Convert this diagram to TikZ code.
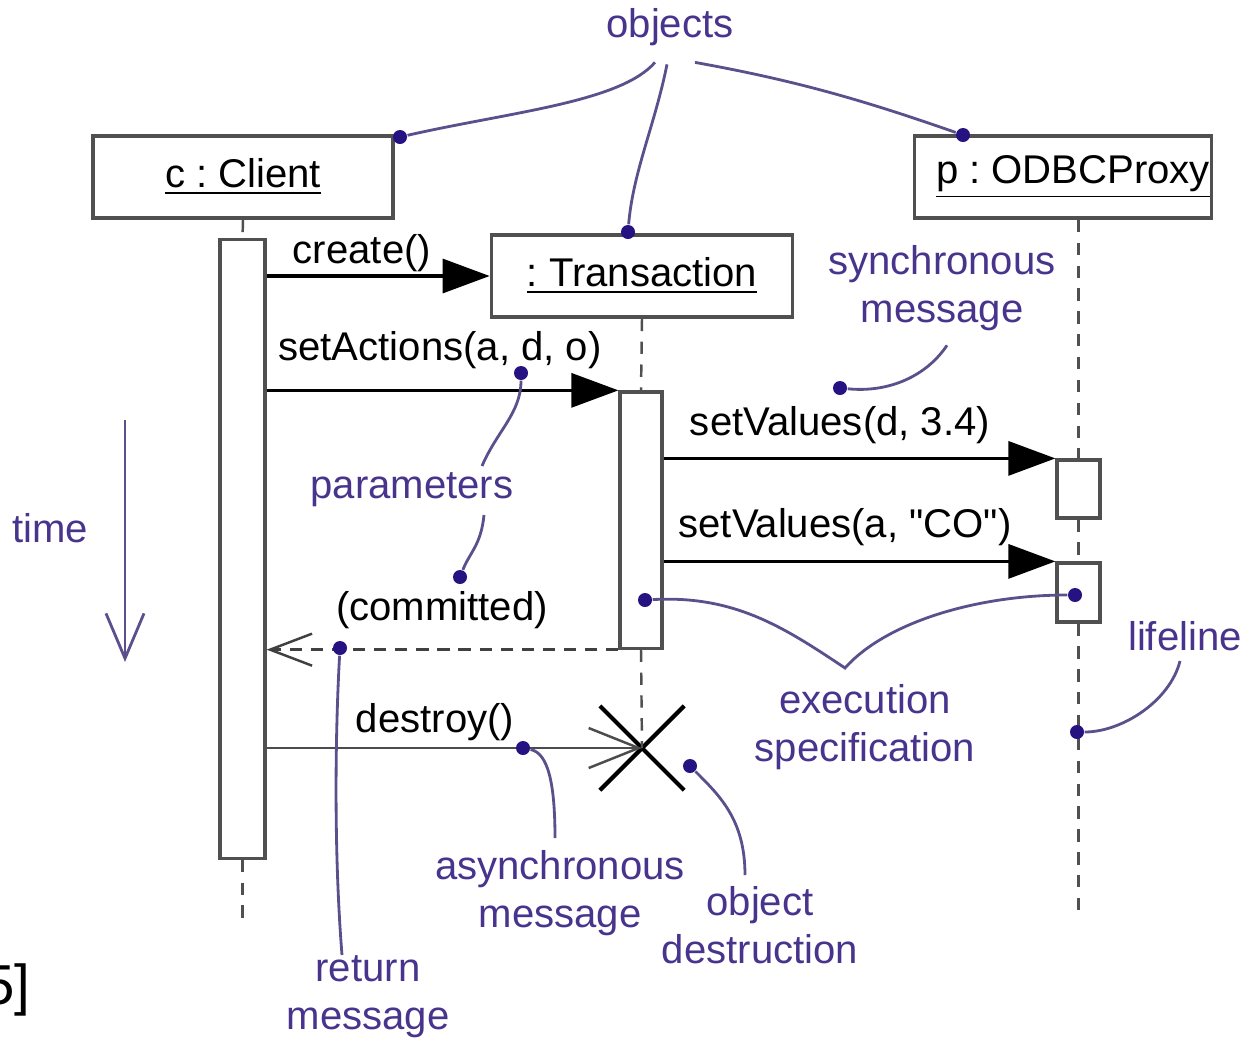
\documentclass[tikz,border=0pt]{standalone}
\usepackage{fontspec}
\setmainfont{Liberation Sans}[Ligatures=TeXOff]
\frenchspacing
\usetikzlibrary{arrows.meta,positioning,calc,shapes.misc}
\definecolor{notepurple}{RGB}{72,52,140}
\definecolor{dotblue}{RGB}{38,18,128}
\definecolor{noteline}{RGB}{92,80,140}
\definecolor{boxgray}{RGB}{80,80,80}

\begin{document}
\begin{tikzpicture}[x=0.01cm,y=-0.01cm,
  font=\fontsize{11.4}{13.6}\selectfont,
  every node/.style={align=center},
  obj/.style={draw=boxgray,line width=1pt,fill=white,minimum height=0.82cm,inner sep=0pt},
  bar/.style={draw=boxgray,line width=0.9pt,fill=white,inner sep=0pt},
  life/.style={draw=boxgray,line width=0.7pt,dash pattern=on 3.5pt off 3pt},
  sync/.style={line width=0.9pt,-{Triangle[length=0.47cm,width=0.34cm]}},
  async/.style={draw=black!70,line width=0.7pt,-{Straight Barb[length=0.5cm,width=0.4cm]}},
  reply/.style={draw=black!75,line width=0.7pt,dash pattern=on 3.5pt off 2.5pt,-{Straight Barb[length=0.42cm,width=0.32cm]}},
  msg/.style={inner sep=0pt},
  note/.style={text=notepurple,inner sep=0pt},
  dot/.style={circle,fill=dotblue,minimum size=0.14cm,inner sep=0pt},
  link/.style={draw=noteline,line width=0.8pt}]
  \useasboundingbox (0,0) rectangle (1245,1042);

  % objects
  \node[obj,minimum width=3cm] (client) at (243,177) {\underline{c : Client}};
  \node[obj,minimum width=3.01cm] (trans) at (642,276) {\underline{: Transaction}};
  \node[obj,minimum width=2.97cm] (proxy) at (1063,177) {\hspace*{0.2cm}\underline{p : ODBCProxy}};

  % execution specifications
  \node[bar,minimum width=0.45cm,minimum height=6.18cm] (cbar) at (242.5,549) {};
  \node[bar,minimum width=0.42cm,minimum height=2.56cm] (tbar) at (641,520) {};
  \node[bar,minimum width=0.43cm,minimum height=0.58cm] (pb1) at (1078.5,489) {};
  \node[bar,minimum width=0.43cm,minimum height=0.59cm] (pb2) at (1078.5,592.5) {};
  \coordinate (cend) at (242.5,922);
  \coordinate (pend) at (1078.5,918);

  % lifelines
  \draw[life] (client.south) -- (cbar.north);
  \draw[life] (cbar.south) -- (cend);
  \draw[life] (trans.south) -- (tbar.north);
  \node[cross out,draw=black,line width=1.2pt,minimum size=0.8cm,inner sep=0pt] (kill) at (642,748) {};
  \draw[life] (tbar.south) -- (kill.center);
  \draw[life] (pb1.north |- proxy.south) -- (pb1.north);
  \draw[life] (pb1.south) -- (pb2.north);
  \draw[life] (pb2.south) -- (pend);

  % messages
  \draw[sync] (cbar.east |- trans.west) -- (trans.west);
  \draw[sync] (cbar.east |- tbar.north west) -- (tbar.north west);
  \draw[sync] (tbar.east |- pb1.north west) -- (pb1.north west);
  \draw[sync] (tbar.east |- pb2.north west) -- (pb2.north west);
  \draw[reply] (tbar.south west) -- (cbar.east |- tbar.south west);
  \draw[async] (cbar.east |- kill.center) -- (kill.center);

  \node[msg] (lcr) at (362,253) {create()};
  \node[msg] (lsa) at (440,350) {setActions(a, d, o)};
  \node[msg] (lsv1) at (840,425) {setValues(d, 3.4)};
  \node[msg] (lsv2) at (845,527) {setValues(a, "CO")};
  \node[msg] (lcom) at (442,610) {(committed)};
  \node[msg] (lde) at (435,722) {destroy()};

  % notes
  \node[note] (objects) at (670,27) {objects};
  \node[note] (syn) at (942,288) {synchronous\\message};
  \node[note] (par) at (412,490) {parameters};
  \node[note] (tim) at (50,528) {time};
  \node[note] (ret) at (368,997) {return\\message};
  \node[note] (exe) at (865,727) {execution\\specification};
  \node[note] (lif) at (1185,636) {lifeline};
  \node[note] (asy) at (560,893) {asynchronous\\message};
  \node[note] (ode) at (760,925) {object\\destruction};
  \node[font=\fontsize{16}{18}\selectfont,anchor=east,inner sep=0pt] (cite) at (31,990) {5]};

  \node[dot] (dcl) at (400,137) {};
  \node[dot] (dtr) at (628,232) {};
  \node[dot] (dpx) at (963,135) {};
  \node[dot] (dsy) at (840,388) {};
  \node[dot] (dpa1) at (521,373) {};
  \node[dot] (dpa2) at (460,577) {};
  \node[dot] (dret) at (340,648) {};
  \node[dot] (dex1) at (645,600) {};
  \node[dot] (dex2) at (1075,595) {};
  \node[dot] (dlf) at (1077,732) {};
  \node[dot] (das) at (523,748) {};
  \node[dot] (dod) at (690,766) {};
  \coordinate (vx) at ($(exe)+(-20,-59)$);
  \coordinate (ttop) at (125,420);
  \coordinate (tbot) at (125,662);

  \draw[link] ($(objects.south)+(-15,16)$) .. controls +(-35,40) and +(110,-25) .. (dcl);
  \draw[link] ($(objects.south)+(-3,18)$) .. controls +(-12,60) and +(5,-60) .. (dtr);
  \draw[link] ($(objects.south)+(25,16)$) .. controls +(100,18) and +(-100,-35) .. (dpx);
  \draw[link] ($(syn.south)+(5,14)$) .. controls +(-20,30) and +(50,5) .. (dsy);
  \draw[link] ($(par)+(70,-24)$) .. controls +(15,-35) and +(0,40) .. (dpa1);
  \draw[link] ($(par)+(72,25)$) .. controls +(-3,30) and +(10,-25) .. (dpa2);
  \draw[link] ($(ret)+(-26,-42)$) .. controls +(-8,-100) and +(-5,90) .. (dret);
  \draw[link] (dex1) .. controls +(90,-5) and +(-60,-40) .. (vx)
    .. controls +(40,-45) and +(-100,0) .. (dex2);
  \draw[link] ($(lif)+(-5,25)$) .. controls +(-10,40) and +(45,0) .. (dlf);
  \draw[link] ($(asy)+(-5,-55)$) .. controls +(0,-55) and +(25,5) .. (das);
  \draw[link] ($(ode)+(-15,-50)$) .. controls +(0,-55) and +(30,30) .. (dod);
  \draw[link,-{Straight Barb[length=0.45cm,width=0.38cm]}] (ttop) -- (tbot);
\end{tikzpicture}
\end{document}
